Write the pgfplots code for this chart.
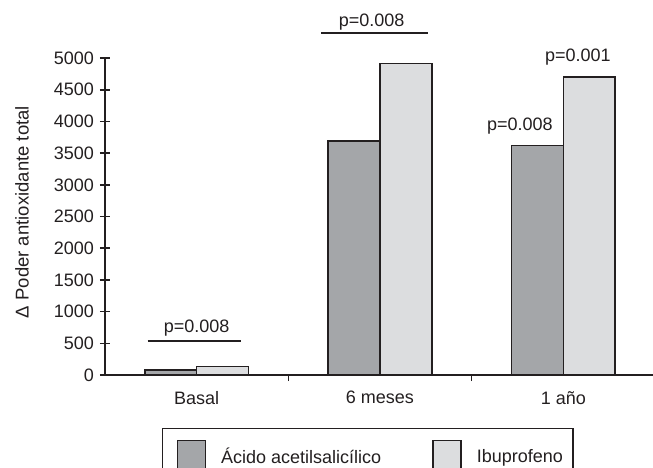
\documentclass[border=0pt]{standalone}
\usepackage{pgfplots}
\pgfplotsset{compat=1.18}
\usepackage{fontspec}
\setmainfont{Liberation Sans}
\definecolor{txt}{HTML}{231F20}
\definecolor{darkbar}{HTML}{A4A6A9}
\definecolor{lightbar}{HTML}{DCDDDF}
\begin{document}
\fontsize{18}{21}\selectfont
\begin{tikzpicture}[x=1pt,y=1pt]
\useasboundingbox (-105,-92) rectangle (548,375);
\begin{axis}[
  at={(0,0)}, anchor=south west,
  scale only axis, width=550pt, height=317pt,
  xmin=-0.5, xmax=2.5, ymin=0, ymax=5000,
  clip=false,
  axis lines=left,
  axis line style={-, line width=1.6pt, color=txt},
  ybar, bar width=0.283,
  /pgf/number format/assume math mode=true,
  /pgf/number format/1000 sep={},
  major tick length=6pt,
  tick style={line width=1.6pt, color=txt},
  ytick=\empty,
  extra y ticks={0,500,1000,1500,2000,2500,3000,3500,4000,4500,5000},
  extra y tick style={major tick length=10pt, ytick align=center},
  yticklabel style={font=\fontsize{18}{21}\selectfont, color=txt},
  xtick={0.5,1.5}, xticklabels={},
  xtick align=outside,
  extra x ticks={0,1,2},
  extra x tick labels={Basal,6 meses,1 año},
  extra x tick style={major tick length=0pt},
  xticklabel style={font=\fontsize{18}{21}\selectfont, color=txt, yshift=-10pt},
  ylabel={Δ Poder antioxidante total},
  ylabel style={font=\fontsize{18.5}{21}\selectfont, color=txt, at={(axis description cs:-0.151,0.514)}, anchor=center},
  legend columns=2,
  legend style={at={(0.1036,-0.1672)}, anchor=north west, draw=txt, line width=1.2pt,
    font=\fontsize{18}{21}\selectfont, text=txt,
    inner xsep=8pt, inner ysep=11pt,
    /tikz/every odd column/.append style={column sep=13pt},
    /tikz/every even column/.append style={column sep=43pt}},
  legend image code/.code={\path (0pt,0pt); \draw[#1, line width=1.6pt] (6pt,-11pt) rectangle (34pt,17pt);},
]
\addplot[fill=darkbar, draw=txt, line width=1.6pt, bar shift=-0.1415] coordinates {(0,75) (1,3690) (2,3622)};
\addlegendentry{Ácido acetilsalicílico}
\addplot[fill=lightbar, draw=txt, line width=1.6pt, bar shift=0.1415] coordinates {(0,135) (1,4915) (2,4700)};
\addlegendentry{Ibuprofeno}
\draw[txt, line width=1.6pt] (axis cs:-0.267,535) -- (axis cs:0.24,535);
\node[txt, anchor=base, font=\fontsize{18}{21}\selectfont] at (axis cs:0,678) {p=0.008};
\draw[txt, line width=1.6pt] (axis cs:0.68,5390) -- (axis cs:1.26,5390);
\node[txt, anchor=base, font=\fontsize{18}{21}\selectfont] at (axis cs:0.954,5494) {p=0.008};
\node[txt, anchor=base, font=\fontsize{18}{21}\selectfont] at (axis cs:1.763,3864) {p=0.008};
\node[txt, anchor=base, font=\fontsize{18}{21}\selectfont] at (axis cs:2.079,4942) {p=0.001};
\end{axis}
\end{tikzpicture}
\end{document}
